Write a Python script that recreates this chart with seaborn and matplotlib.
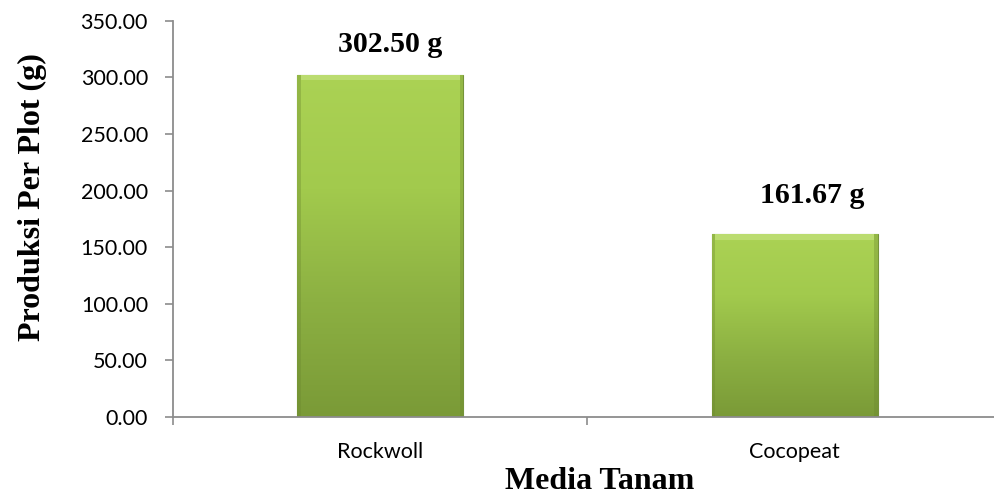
import numpy as np
import pandas as pd
import matplotlib
matplotlib.use("Agg")
import matplotlib.pyplot as plt
from matplotlib.colors import LinearSegmentedColormap
import seaborn as sns

media = ["Rockwoll", "Cocopeat"]
produksi = [302.50, 161.67]
value_labels = ["302.50 g", "161.67 g"]
y_ticks = [0, 50, 100, 150, 200, 250, 300, 350]

# placement of the value labels above each bar (data units / category units)
label_lift = [19.5, 27.5]
label_shift = [0.025, 0.043]

df = pd.DataFrame({"Media Tanam": media, "Produksi": produksi})

sns.set_theme(style="white")
plt.rcParams["font.family"] = ["Lato", "DejaVu Sans"]

fig = plt.figure(figsize=(9.94, 4.95), dpi=100)
ax = fig.add_axes([0.174, 0.158, 0.834, 0.800])

sns.barplot(data=df, x="Media Tanam", y="Produksi", ax=ax, width=0.40,
            color="#9cc446", edgecolor="#75933a", linewidth=0.8, saturation=1)

ax.set_ylim(0, 350)
ax.set_xlim(-0.5, 1.5)

# vertical gradient fill for each bar: light green top, darker olive bottom
grad = LinearSegmentedColormap.from_list(
    "bar", ["#7a9a37", "#8cb042", "#a2ca4d", "#abd254"])
for patch in ax.patches:
    x0, y0 = patch.get_x(), patch.get_y()
    w, h = patch.get_width(), patch.get_height()
    z = patch.get_zorder()
    img = np.linspace(0, 1, 256).reshape(-1, 1)
    im = ax.imshow(img, cmap=grad, origin="lower", aspect="auto",
                   extent=[x0, x0 + w, y0, y0 + h], zorder=z + 0.1)
    im.set_clip_path(patch)
    # light bevel along the top edge
    ax.fill_between([x0 + w * 0.02, x0 + w * 0.98], y0 + h - 5, y0 + h,
                    color="#c8e585", alpha=0.6, zorder=z + 0.2, linewidth=0)
    # darker shading on the side edges
    for xs in ([x0, x0 + w * 0.02], [x0 + w * 0.98, x0 + w]):
        ax.fill_between(xs, y0, y0 + h, color="#6a872e", alpha=0.35,
                        zorder=z + 0.2, linewidth=0)

for i, (v, lab) in enumerate(zip(produksi, value_labels)):
    ax.text(i + label_shift[i], v + label_lift[i], lab, ha="center", va="baseline",
            fontsize=21.5, fontweight="bold", family="Liberation Serif",
            color="black")

ax.set_yticks(y_ticks)
ax.set_yticklabels([f"{t:.2f}" for t in y_ticks], fontsize=15.5, color="black")
ax.set_xticks([-0.5, 0.5, 1.5])
ax.set_xticklabels([])
ax.set_xticks([0, 1], minor=True)
ax.set_xticklabels(media, minor=True, fontsize=15.5, color="black")
ax.tick_params(axis="x", which="major", bottom=True, length=6, width=1.2,
               color="#8c8c8c", direction="out")
ax.tick_params(axis="x", which="minor", bottom=True, length=0, pad=18.5)
ax.tick_params(axis="y", left=True, length=6, width=1.2, color="#8c8c8c",
               direction="out", pad=12)

for side in ["top", "right"]:
    ax.spines[side].set_visible(False)
for side in ["left", "bottom"]:
    ax.spines[side].set_color("#8c8c8c")
    ax.spines[side].set_linewidth(1.3)

ax.set_xlabel("Media Tanam", fontsize=23, fontweight="bold",
              family="Liberation Serif", color="black", va="baseline")
ax.xaxis.set_label_coords(0.515, -0.182)
ax.set_ylabel("Produksi Per Plot (g)", fontsize=23, fontweight="bold",
              family="Liberation Serif", color="black", va="center")
ax.yaxis.set_label_coords(-0.170, 0.556)

fig.savefig("out.png", dpi=100)
